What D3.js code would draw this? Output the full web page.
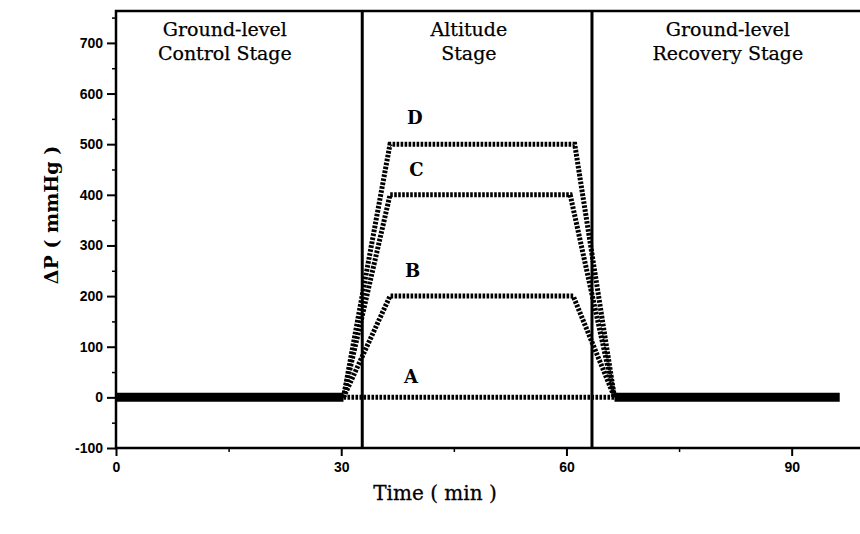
<!DOCTYPE html>
<html><head><meta charset="utf-8">
<script src="https://cdn.jsdelivr.net/npm/d3@7"></script>
<style>body{margin:0;background:#fff}svg{display:block}</style>
</head><body>
<svg id="c" width="860" height="534"></svg>
<script>
// ---- data ----
const xTicks = [0, 30, 60, 90];
const xMinor = [15, 45, 75];
const yTicks = [-100, 0, 100, 200, 300, 400, 500, 600, 700];
const yMinor = [-50, 50, 150, 250, 350, 450, 550, 650, 750];
const stageBounds = [32.8, 63.4];
const controlTime = [0, 30.3];
const controlValue = [0, 0];
const recoveryTime = [66.4, 96.4];
const recoveryValue = [0, 0];
const seriesNames = ["A", "B", "C", "D"];
const timeA = [30.3, 66.4];             const valA = [0, 0];
const timeB = [30.3, 36.5, 60.9, 66.4]; const valB = [0, 200, 200, 0];
const timeC = [30.3, 36.5, 60.5, 66.4]; const valC = [0, 400, 400, 0];
const timeD = [30.3, 36.5, 61.1, 66.4]; const valD = [0, 500, 500, 0];
const labelTime = [39.3, 39.5, 40.0, 39.8];
const labelValue = [40, 250, 450, 553];
const stageLabels = [
  {t: 14.5, lines: ["Ground-level", "Control Stage"]},
  {t: 47.0, lines: ["Altitude", "Stage"]},
  {t: 81.5, lines: ["Ground-level", "Recovery Stage"]}
];

const svg = d3.select("#c");
const x = d3.scaleLinear().domain([0, 99.5]).range([116, 863]);
const y = d3.scaleLinear().domain([-100, 763]).range([448, 11]);

const serif = "'DejaVu Serif', serif";
const sans = "'Liberation Sans', Arial, sans-serif";
const fmt = d => String(d);

// frame (left, top, bottom)
svg.append("path")
  .attr("d", `M${x(99.5)},${y(763)}H${x(0)}V${y(-100)}H${x(99.5)}`)
  .attr("fill", "none").attr("stroke", "#000").attr("stroke-width", 2.5);

// axes
const xAxis = svg.append("g").attr("transform", `translate(0,${y(-100)})`)
  .call(d3.axisBottom(x).tickValues(xTicks).tickSize(8).tickPadding(6).tickFormat(fmt));
xAxis.select(".domain").remove();
xAxis.selectAll("line").attr("stroke-width", 2);
xAxis.selectAll("text").attr("font-family", sans).attr("font-weight", "bold").attr("font-size", 14);
const xAxisMinor = svg.append("g").attr("transform", `translate(0,${y(-100)})`)
  .call(d3.axisBottom(x).tickValues(xMinor).tickSize(4).tickFormat(""));
xAxisMinor.select(".domain").remove();
xAxisMinor.selectAll("line").attr("stroke-width", 1.5);

const yAxis = svg.append("g").attr("transform", `translate(${x(0)},0)`)
  .call(d3.axisLeft(y).tickValues(yTicks).tickSize(9).tickPadding(4).tickFormat(fmt));
yAxis.select(".domain").remove();
yAxis.selectAll("line").attr("stroke-width", 2);
yAxis.selectAll("text").attr("font-family", sans).attr("font-weight", "bold").attr("font-size", 14);
const yAxisMinor = svg.append("g").attr("transform", `translate(${x(0)},0)`)
  .call(d3.axisLeft(y).tickValues(yMinor.filter(v => v < 763)).tickSize(4).tickFormat(""));
yAxisMinor.select(".domain").remove();
yAxisMinor.selectAll("line").attr("stroke-width", 1.5);

// stage boundaries
svg.selectAll("line.stage").data(stageBounds).join("line").attr("class", "stage")
  .attr("x1", d => x(d)).attr("x2", d => x(d)).attr("y1", y(763)).attr("y2", y(-100))
  .attr("stroke", "#000").attr("stroke-width", 3);

const line = d3.line().x(d => x(d[0])).y(d => y(d[1]));
const zip = (a, b) => a.map((v, i) => [v, b[i]]);

// thick solid baselines
[[controlTime, controlValue], [recoveryTime, recoveryValue]].forEach(([t, v]) => {
  svg.append("path").attr("d", line(zip(t, v))).attr("fill", "none")
    .attr("stroke", "#000").attr("stroke-width", 9);
});

// dotted series
[[timeA, valA], [timeB, valB], [timeC, valC], [timeD, valD]].forEach(([t, v]) => {
  svg.append("path").attr("d", line(zip(t, v))).attr("fill", "none")
    .attr("stroke", "#000").attr("stroke-width", 5).attr("stroke-dasharray", "2.6,1.4")
    .attr("stroke-linejoin", "miter");
});

// series letters
svg.selectAll("text.lab").data(seriesNames).join("text").attr("class", "lab")
  .attr("x", (d, i) => x(labelTime[i])).attr("y", (d, i) => y(labelValue[i]))
  .attr("dy", "0.35em").attr("text-anchor", "middle")
  .attr("font-family", serif).attr("font-weight", "bold").attr("font-size", 18).text(d => d);

// stage labels
stageLabels.forEach(s => {
  const tx = svg.append("text").attr("text-anchor", "middle")
    .attr("font-family", serif).attr("font-size", 19).attr("fill", "#000")
    .attr("stroke", "#000").attr("stroke-width", 0.25);
  s.lines.forEach((l, i) => tx.append("tspan").attr("x", x(s.t)).attr("y", 36 + i * 24).text(l));
});

// axis titles
svg.append("text").attr("x", 435).attr("y", 500).attr("text-anchor", "middle")
  .attr("font-family", serif).attr("font-size", 20)
  .attr("stroke", "#000").attr("stroke-width", 0.3).text("Time ( min )");
svg.append("text").attr("transform", "translate(58,215) rotate(-90)").attr("text-anchor", "middle")
  .attr("font-family", serif).attr("font-weight", "bold").attr("font-size", 19).text("ΔP  ( mmHg )");
</script>
</body></html>
